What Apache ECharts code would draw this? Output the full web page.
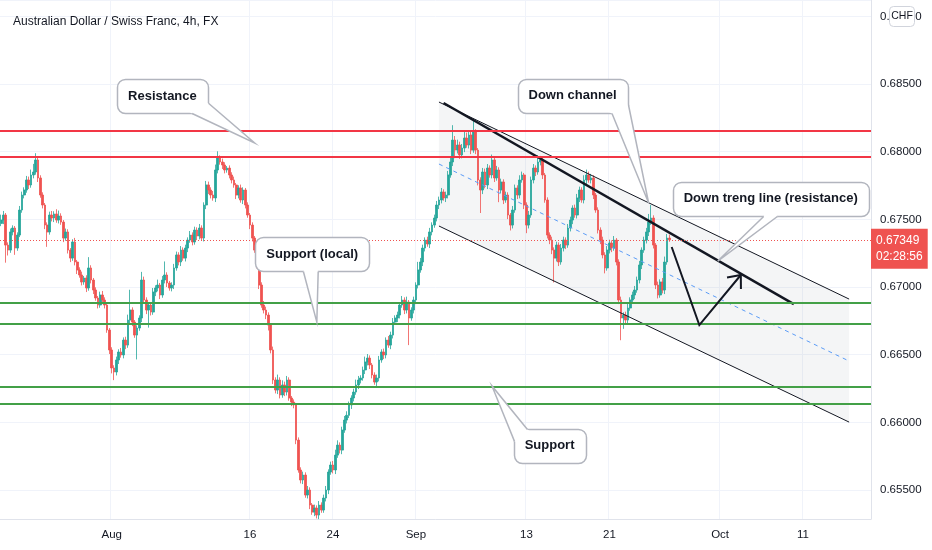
<!DOCTYPE html>
<html>
<head>
<meta charset="utf-8">
<script src="https://cdn.jsdelivr.net/npm/echarts@6/dist/echarts.min.js"></script>
<style>html,body{margin:0;background:#fff}#chart{width:932px;height:550px}</style>
</head>
<body>
<div id="chart"></div>
<script>
var FONT = "'Liberation Sans',Arial,sans-serif";

// trading days on the axis, six 4h bars each
var days = [
  '2021-07-21','2021-07-22','2021-07-23','2021-07-26','2021-07-27','2021-07-28','2021-07-29','2021-07-30',
  '2021-08-02','2021-08-03','2021-08-04','2021-08-05','2021-08-06','2021-08-09','2021-08-10','2021-08-11',
  '2021-08-12','2021-08-13','2021-08-16','2021-08-17','2021-08-18','2021-08-19','2021-08-20','2021-08-23',
  '2021-08-24','2021-08-25','2021-08-26','2021-08-27','2021-08-30','2021-08-31',
  '2021-09-01','2021-09-02','2021-09-03','2021-09-06','2021-09-07','2021-09-08','2021-09-09','2021-09-10',
  '2021-09-13','2021-09-14','2021-09-15','2021-09-16','2021-09-17','2021-09-20','2021-09-21','2021-09-22',
  '2021-09-23','2021-09-24','2021-09-27','2021-09-28','2021-09-29','2021-09-30',
  '2021-10-01','2021-10-04','2021-10-05','2021-10-06','2021-10-07','2021-10-08','2021-10-11','2021-10-12',
  '2021-10-13','2021-10-14','2021-10-15'
];
var hours = ['00:00','04:00','08:00','12:00','16:00','20:00'];

var tickLabels = {
  '2021-08-02 00:00': 'Aug', '2021-08-16 00:00': '16', '2021-08-24 00:00': '24',
  '2021-09-01 00:00': 'Sep', '2021-09-13 00:00': '13', '2021-09-21 00:00': '21',
  '2021-10-01 00:00': 'Oct', '2021-10-11 00:00': '11'
};

// closing prices, 1e-5 units
var firstOpen = 67470;
var closes = [
  67495,67532,67310,67273,67407,67436,67288,67384,67569,67680,
  67717,67791,67754,67828,67850,67939,67806,67680,67606,67458,
  67407,67532,67510,67540,67495,67525,67480,67362,67407,67273,
  67214,67333,67185,67126,67089,67037,67067,66993,67141,67052,
  66978,66919,66867,66941,66904,66867,66682,66535,66402,66372,
  66461,66520,66498,66608,66571,66756,66830,66741,66645,66697,
  66771,67052,66904,66830,66867,66815,66963,66993,67015,66941,
  67052,67089,67030,66993,67015,67141,67237,67185,67273,67214,
  67288,67347,67384,67333,67421,67377,67436,67362,67606,67754,
  67717,67680,67658,67865,67953,67924,67902,67865,67879,67828,
  67791,67754,67680,67732,67643,67717,67606,67532,67458,67362,
  67273,67163,67015,66867,66830,66793,66719,66535,66313,66239,
  66313,66202,66276,66224,66313,66180,66150,66129,65869,65648,
  65574,65611,65463,65500,65389,65337,65367,65315,65389,65352,
  65441,65500,65633,65685,65648,65758,65832,65795,65943,66017,
  66052,66129,66180,66224,66276,66313,66328,66387,66446,66475,
  66424,66350,66298,66328,66461,66520,66498,66608,66571,66645,
  66741,66771,66793,66867,66904,66830,66889,66771,66830,66904,
  67015,67126,67185,67288,67347,67318,67407,67458,67510,67606,
  67643,67702,67658,67680,67828,67924,68086,68012,68049,67976,
  68027,68101,68049,68123,68012,68146,68012,67791,67717,67850,
  67754,67879,67828,67939,67806,67865,67717,67776,67643,67680,
  67532,67458,67569,67732,67680,67791,67828,67606,67458,67532,
  67791,67879,67850,67924,67939,67828,67643,67384,67347,67273,
  67214,67310,67185,67288,67347,67310,67436,67495,67584,67532,
  67658,67717,67643,67791,67828,67791,67806,67680,67569,67421,
  67347,67237,67141,67273,67325,67288,67347,67185,66904,66771,
  66793,66756,66845,66904,66941,66978,67052,67163,67273,67347,
  67407,67480,67510,67310,67015,66941,67037,66978,67185,67362,
  67349
];
// wick lengths above / below the body, 1e-5 units
var upWick = [
  40,30,15,20,25,20,15,20,30,25, 20,30,25,40,60,50,15,20,20,15,
  20,25,30,20,35,40,20,15,25,20, 15,20,30,15,20,25,15,20,80,20,
  15,20,15,25,30,20,15,15,20,20, 25,20,30,20,25,40,150,20,15,20,
  20,60,25,20,15,20,30,20,40,15, 30,100,20,15,20,30,25,20,30,20,
  25,20,30,20,25,20,30,20,20,30, 25,20,30,40,50,20,25,20,15,20,
  20,25,15,20,25,20,15,20,15,20, 15,20,15,20,30,25,20,15,25,20,
  40,20,35,25,30,20,15,20,15,20, 20,25,20,30,20,15,25,20,30,20,
  25,30,20,25,30,40,35,20,25,30, 30,25,20,25,40,30,20,25,40,30,
  20,15,20,25,30,20,25,20,30,25, 30,20,25,20,30,20,40,15,20,25,
  20,60,30,25,20,25,30,20,25,30, 25,30,20,25,30,40,110,30,40,25,
  30,50,40,30,35,90,20,15,20,30, 25,30,20,40,25,30,20,25,20,25,
  20,15,30,25,20,35,25,15,20,30, 25,30,20,50,30,20,15,20,20,25,
  20,25,20,30,25,20,30,25,20,25, 30,25,20,35,40,25,30,20,15,20,
  20,25,20,30,25,20,30,15,20,25, 20,25,30,20,25,30,25,30,20,25,
  30,60,96,20,15,25,20,30,40,30, 25
];
var downWick = [
  20,30,130,40,20,25,50,20,15,20, 25,20,30,20,25,20,30,20,25,30,
  110,20,25,30,20,25,20,30,20,25, 30,20,25,30,20,25,20,30,20,25,
  30,20,25,20,30,25,20,30,40,60, 25,30,20,25,30,20,25,30,20,180,
  20,30,25,30,130,25,20,30,25,30, 20,25,30,20,25,30,20,25,30,20,
  25,30,20,25,20,30,25,20,25,30, 30,25,20,30,25,20,30,25,20,25,
  25,20,30,25,20,30,25,20,30,25, 20,25,30,20,25,30,40,25,30,25,
  30,25,20,30,25,20,30,25,30,20, 25,30,20,25,30,20,30,25,30,20,
  20,25,30,20,25,30,20,25,30,20, 25,20,30,25,20,30,25,20,30,25,
  30,25,20,30,25,20,30,25,20,30, 25,20,30,25,20,30,25,200,20,25,
  30,25,20,30,25,20,30,25,20,25, 30,25,20,30,25,20,30,60,25,30,
  25,30,20,25,30,20,30,40,170,30, 25,30,20,25,30,20,90,25,30,20,
  30,40,25,20,30,25,20,30,60,25, 20,25,30,20,25,30,20,25,30,30,
  180,25,30,20,25,30,20,25,30,20, 25,30,20,25,30,20,25,30,20,25,
  30,25,40,20,25,30,20,25,30,164, 80,25,30,20,25,30,20,25,30,20,
  25,30,20,25,30,25,20,25,30,20, 15
];

var lastPrice = 0.67349;
var countdown = '02:28:56';
var resistance = [0.68153, 0.67964];
var support = [0.66882, 0.66729, 0.66263, 0.66140];

var channelTop = [['2021-09-02 16:00', 0.68367], ['2021-10-14 08:00', 0.66911]];
var channelMid = [['2021-09-02 16:00', 0.67909], ['2021-10-14 08:00', 0.66453]];
var channelBottom = [['2021-09-02 16:00', 0.67451], ['2021-10-14 08:00', 0.66002]];
var trendLine = [['2021-09-03 00:00', 0.68360], ['2021-10-08 08:00', 0.66874]];
var projection = [['2021-09-27 12:00', 0.67296], ['2021-09-29 12:00', 0.66719], ['2021-10-04 12:00', 0.67089]];

var callouts = [
  {text: 'Resistance', at: ['2021-08-05 16:00', 0.68408], tip: ['2021-08-16 08:00', 0.68064], base: [[0.82, 1], [1, 0.7]]},
  {text: 'Support (local)', at: ['2021-08-20 12:00', 0.67244], tip: ['2021-08-20 20:00', 0.66741], base: [[0.42, 1], [0.55, 1]]},
  {text: 'Down channel', at: ['2021-09-16 08:00', 0.68415], tip: ['2021-09-23 20:00', 0.67621], base: [[0.85, 1], [1, 0.75]]},
  {text: 'Down treng line (resistance)', at: ['2021-10-06 16:00', 0.67654], tip: ['2021-09-30 20:00', 0.67192], base: [[0.46, 1], [0.53, 1]]},
  {text: 'Support', at: ['2021-09-14 16:00', 0.65829], tip: ['2021-09-08 12:00', 0.66269], base: [[0, 0.35], [0.18, 0]]}
];

var categories = [];
days.forEach(function (d) {
  hours.forEach(function (h) { categories.push(d + ' ' + h); });
});

var candles = closes.map(function (c, i) {
  var o = i ? closes[i - 1] : firstOpen;
  return [o / 1e5, c / 1e5, (Math.min(o, c) - downWick[i]) / 1e5, (Math.max(o, c) + upWick[i]) / 1e5];
});

function idx(cat) { return categories.indexOf(cat); }

var measureCtx = document.createElement('canvas').getContext('2d');
function textWidth(text, font) {
  measureCtx.font = font;
  return measureCtx.measureText(text).width;
}

function hasTick(i, v) { return tickLabels[v] !== undefined; }

var chart = echarts.init(document.getElementById('chart'));

var option = {
  animation: false,
  backgroundColor: '#fff',
  title: {
    text: 'Australian Dollar / Swiss Franc, 4h, FX',
    left: 8, top: 11,
    textStyle: {fontSize: 12, fontWeight: 'normal', color: '#131722', fontFamily: FONT}
  },
  grid: {left: 0, right: 61, top: 0, bottom: 31},
  xAxis: {
    type: 'category',
    data: categories,
    boundaryGap: true,
    axisLine: {lineStyle: {color: '#e0e3eb'}},
    axisTick: {show: false},
    axisLabel: {
      interval: hasTick,
      formatter: function (v) { return tickLabels[v] || ''; },
      color: '#131722', fontSize: 11.5, fontFamily: FONT, margin: 10
    },
    splitLine: {show: true, interval: hasTick, lineStyle: {color: '#f0f3fa'}}
  },
  yAxis: {
    type: 'value',
    position: 'right',
    min: 0.65286, max: 0.69121,
    splitNumber: 8, minInterval: 0.005, maxInterval: 0.005,
    axisLine: {show: true, lineStyle: {color: '#e0e3eb'}},
    axisTick: {show: false},
    axisLabel: {
      showMinLabel: false, showMaxLabel: false,
      formatter: function (v) { return v.toFixed(5); },
      color: '#131722', fontSize: 11.5, fontFamily: FONT, margin: 9
    },
    splitLine: {lineStyle: {color: '#f0f3fa'}}
  },
  graphic: [{
    type: 'group', left: 889, top: 6, z: 100,
    children: [
      {type: 'rect', z: 100, shape: {x: 0, y: 0, width: 25, height: 20, r: 4}, style: {fill: '#fff', stroke: '#d1d4dc'}},
      {type: 'text', z: 101, style: {text: 'CHF', x: 12.5, y: 10, align: 'center', verticalAlign: 'middle', fontSize: 10.5, fill: '#131722', fontFamily: FONT}}
    ]
  }],
  series: [
    {
      // channel fill
      type: 'custom', z: 1, silent: true,
      data: [[idx(channelTop[0][0]), channelTop[0][1]]],
      renderItem: function (params, api) {
        var pts = [channelTop[0], channelTop[1], channelBottom[1], channelBottom[0]].map(function (d) {
          return api.coord([idx(d[0]), d[1]]);
        });
        return {type: 'polygon', shape: {points: pts}, style: {fill: 'rgba(120,123,134,0.08)'}};
      }
    },
    {
      type: 'candlestick', z: 2,
      data: candles,
      barWidth: 2.2,
      itemStyle: {color: '#26a69a', color0: '#ef5350', borderColor: '#26a69a', borderColor0: '#ef5350', borderWidth: 0.8}
    },
    {
      // horizontal levels and last price
      type: 'line', z: 3, data: [], silent: true,
      markLine: {
        symbol: 'none', silent: true, animation: false, precision: 5,
        data: resistance.map(function (v) {
          return {yAxis: v, lineStyle: {color: '#f23645', width: 2, type: 'solid'}, label: {show: false}};
        }).concat(support.map(function (v) {
          return {yAxis: v, lineStyle: {color: '#43a047', width: 2, type: 'solid'}, label: {show: false}};
        })).concat([{
          yAxis: lastPrice,
          lineStyle: {color: '#ef5350', width: 1, type: [1, 2]},
          label: {
            show: true, position: 'end', distance: 0,
            formatter: lastPrice.toFixed(5) + '\n' + countdown,
            backgroundColor: '#ef5350', color: '#fff',
            fontSize: 12, fontFamily: FONT, lineHeight: 16,
            padding: [4, 5, 4, 5], align: 'left', offset: [0, 9]
          }
        }])
      }
    },
    {type: 'line', z: 4, data: channelTop, symbol: 'none', silent: true, lineStyle: {color: '#131722', width: 1}},
    {type: 'line', z: 4, data: channelBottom, symbol: 'none', silent: true, lineStyle: {color: '#131722', width: 1}},
    {type: 'line', z: 4, data: channelMid, symbol: 'none', silent: true, lineStyle: {color: '#5b9cf6', width: 1, type: [4, 4]}},
    {type: 'line', z: 4, data: trendLine, symbol: 'none', silent: true, lineStyle: {color: '#131722', width: 2.5}},
    {
      // projected path with arrow head
      type: 'custom', z: 5, silent: true,
      data: [[idx(projection[0][0]), projection[0][1]]],
      renderItem: function (params, api) {
        var pts = projection.map(function (d) { return api.coord([idx(d[0]), d[1]]); });
        var e = pts[pts.length - 1], s = pts[pts.length - 2];
        var ang = Math.atan2(s[1] - e[1], s[0] - e[0]);
        var head = [0.7, -0.7].map(function (da) {
          return [e[0] + 14 * Math.cos(ang + da), e[1] + 14 * Math.sin(ang + da)];
        });
        return {type: 'group', children: [
          {type: 'polyline', shape: {points: pts}, style: {stroke: '#131722', lineWidth: 2, fill: null}},
          {type: 'polyline', shape: {points: [head[0], e, head[1]]}, style: {stroke: '#131722', lineWidth: 2, fill: null}}
        ]};
      }
    },
    {
      // callouts
      type: 'custom', z: 6, silent: true,
      data: callouts.map(function (c) { return [idx(c.at[0]), c.at[1]]; }),
      renderItem: function (params, api) {
        var c = callouts[params.dataIndex];
        var font = 'bold 13px ' + FONT;
        var p = api.coord([idx(c.at[0]), c.at[1]]);
        var t = api.coord([idx(c.tip[0]), c.tip[1]]);
        var w = Math.round(textWidth(c.text, font) + 22), h = 34;
        var x0 = Math.round(p[0] - w / 2) + 0.5, y0 = Math.round(p[1] - h / 2) + 0.5;
        var b = c.base.map(function (f) { return [x0 + f[0] * w, y0 + f[1] * h]; });
        var inner = b.map(function (q) {
          var dx = p[0] - q[0], dy = p[1] - q[1], l = Math.sqrt(dx * dx + dy * dy) || 1;
          return [q[0] + dx / l * 4, q[1] + dy / l * 4];
        });
        return {type: 'group', children: [
          {type: 'rect', shape: {x: x0, y: y0, width: w, height: h, r: 8}, style: {fill: '#fff', stroke: '#b2b5be', lineWidth: 1.5}},
          {type: 'polygon', shape: {points: [b[0], t, b[1], inner[1], inner[0]]}, style: {fill: '#fff'}},
          {type: 'polyline', shape: {points: [b[0], t, b[1]]}, style: {stroke: '#b2b5be', lineWidth: 1.5, fill: null}},
          {type: 'text', style: {text: c.text, x: p[0], y: p[1], align: 'center', verticalAlign: 'middle',
            fontSize: 13, fontWeight: 'bold', fontFamily: FONT, fill: '#131722'}}
        ]};
      }
    }
  ]
};

chart.setOption(option);
</script>
</body>
</html>
